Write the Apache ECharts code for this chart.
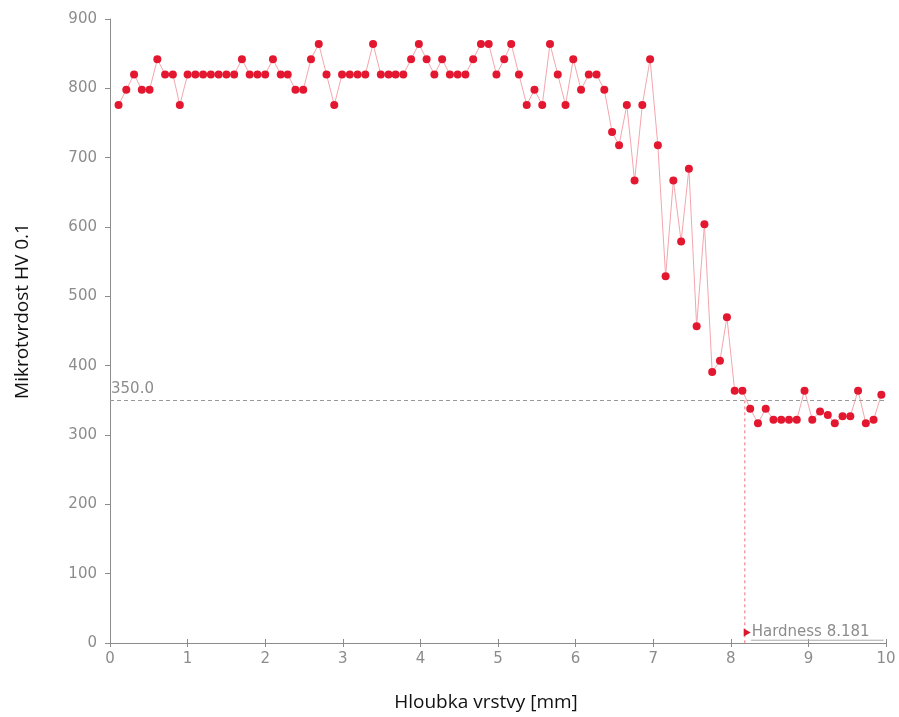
<!DOCTYPE html>
<html>
<head>
<meta charset="utf-8">
<script src="https://cdn.jsdelivr.net/npm/echarts@6/dist/echarts.min.js"></script>
<style>
html,body{margin:0;padding:0;background:#fff;}
#chart{width:899px;height:717px;}
</style>
</head>
<body>
<div id="chart"></div>
<script>
const depth = [0.11,0.21,0.31,0.41,0.51,0.61,0.71,0.81,0.90,1.00,
  1.10,1.20,1.30,1.40,1.50,1.60,1.70,1.80,1.90,2.00,
  2.10,2.20,2.29,2.39,2.49,2.59,2.69,2.79,2.89,2.99,
  3.09,3.19,3.29,3.39,3.49,3.59,3.68,3.78,3.88,3.98,
  4.08,4.18,4.28,4.38,4.48,4.58,4.68,4.78,4.88,4.98,
  5.08,5.17,5.27,5.37,5.47,5.57,5.67,5.77,5.87,5.97,
  6.07,6.17,6.27,6.37,6.47,6.56,6.66,6.76,6.86,6.96,
  7.06,7.16,7.26,7.36,7.46,7.56,7.66,7.76,7.86,7.95,
  8.05,8.15,8.25,8.35,8.45,8.55,8.65,8.75,8.85,8.95,
  9.05,9.15,9.25,9.34,9.44,9.54,9.64,9.74,9.84,9.94];
const hardness = [776,798,820,798,798,842,820,820,776,820,
  820,820,820,820,820,820,842,820,820,820,
  842,820,820,798,798,842,864,820,776,820,
  820,820,820,864,820,820,820,820,842,864,
  842,820,842,820,820,820,842,864,864,820,
  842,864,820,776,798,776,864,820,776,842,
  798,820,820,798,737,718,776,667,776,842,
  718,529,667,579,684,457,604,391,407,470,
  364,364,338,317,338,322,322,322,322,364,
  322,334,329,317,327,327,364,317,322,358];
const limitValue = 350;
const limitLabel = '350.0';
const hardnessDepth = 8.181;
const hardnessLabel = 'Hardness 8.181';
const xTicks = [0,10,1];
const yTicks = [0,900,100];

const chart = echarts.init(document.getElementById('chart'), null, {renderer:'canvas'});
const tickFamily = '"DejaVu Sans",sans-serif';
const tickFont = {color:'#8c8c8c', fontSize:15, fontFamily:tickFamily};
const titleFont = {color:'#111', fontSize:19, fontFamily:'"Open Sans",sans-serif'};
const greyDash = {color:'#999', type:[4,3], width:1};
const option = {
  animation:false,
  backgroundColor:'#fff',
  grid:{left:110, right:13, top:19, bottom:74},
  xAxis:[{
    type:'value', min:xTicks[0], max:xTicks[1], interval:xTicks[2],
    name:'Hloubka vrstvy [mm]', nameLocation:'middle', nameGap:50,
    nameTextStyle:Object.assign({padding:[0,24,0,0]}, titleFont),
    axisLine:{show:true, lineStyle:{color:'#8c8c8c', width:1}},
    axisTick:{show:true, length:4, lineStyle:{color:'#8c8c8c'}},
    axisLabel:Object.assign({margin:9}, tickFont),
    splitLine:{show:false}
  },{
    type:'value', min:xTicks[0], max:xTicks[1], interval:xTicks[2], position:'bottom',
    axisLine:{show:false},
    axisTick:{show:true, inside:true, length:4, lineStyle:{color:'#8c8c8c'}},
    axisLabel:{show:false}, splitLine:{show:false}
  }],
  yAxis:{
    type:'value', min:yTicks[0], max:yTicks[1], interval:yTicks[2],
    name:'Mikrotvrdost HV 0.1', nameLocation:'middle', nameGap:78, nameRotate:90,
    nameTextStyle:Object.assign({padding:[0,0,0,40]}, titleFont),
    axisLine:{show:true, lineStyle:{color:'#8c8c8c', width:1}},
    axisTick:{show:true, length:5, lineStyle:{color:'#8c8c8c'}},
    axisLabel:Object.assign({margin:13}, tickFont),
    splitLine:{show:false}
  },
  series:[{
    type:'line',
    data:depth.map((d,i)=>[d, hardness[i]]),
    symbol:'circle', symbolSize:8,
    lineStyle:{color:'#f4a6ae', width:1},
    itemStyle:{color:'#e3172f'},
    z:3,
    markLine:{
      silent:true, symbol:['none','none'], animation:false,
      data:[
        [{coord:[xTicks[0], limitValue], lineStyle:greyDash,
          label:{show:true, position:'insideStartTop', formatter:limitLabel, color:'#8c8c8c', fontSize:15, fontFamily:tickFamily, distance:[1,4]}},
         {coord:[xTicks[1], limitValue], lineStyle:greyDash}]
      ]
    },
    markPoint:{
      silent:true, animation:false,
      data:[{coord:[hardnessDepth+0.03, 15], symbol:'triangle', symbolSize:[8,7], symbolRotate:-90,
        itemStyle:{color:'#d8182c'},
        label:{show:true, position:'right', distance:1, formatter:hardnessLabel, color:'#8c8c8c', fontSize:15, fontFamily:tickFamily}}]
    }
  },{
    type:'line', silent:true, z:2,
    data:[[hardnessDepth, limitValue],[hardnessDepth, 0]],
    symbol:'none',
    lineStyle:{color:'#f0707c', type:[3,3], width:1}
  },{
    type:'line', silent:true, z:2,
    data:[[hardnessDepth+0.08, 4],[9.97, 4]],
    symbol:'none',
    lineStyle:{color:'#aaa', type:'solid', width:1}
  }]
};
chart.setOption(option);
</script>
</body>
</html>
